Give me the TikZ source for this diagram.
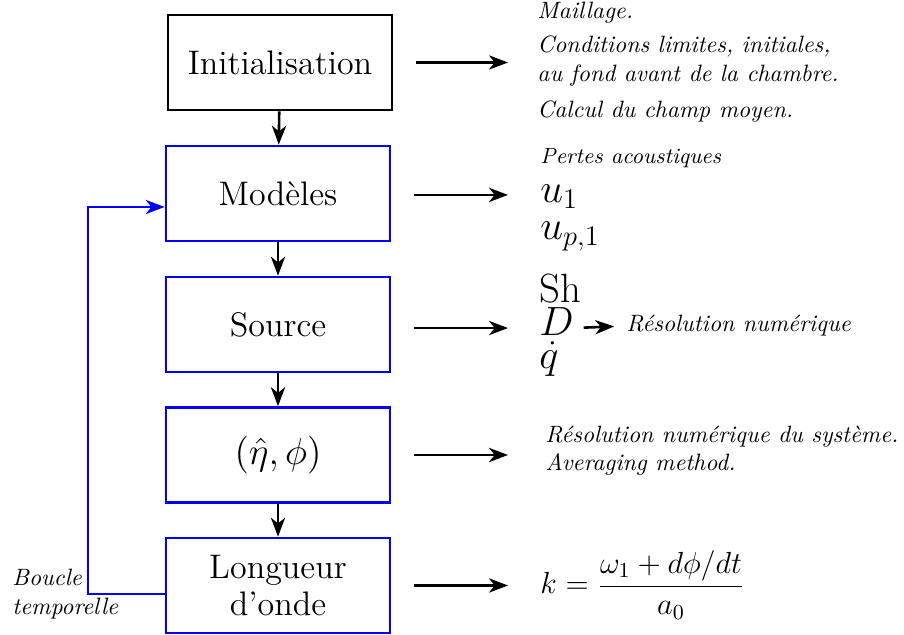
\RequirePackage{fix-cm}
\documentclass[tikz,border=0pt]{standalone}
\usepackage{amsmath,amssymb}
\usetikzlibrary{arrows.meta, positioning}

\begin{document}
\begin{tikzpicture}[x=0.423pt,y=-0.423pt,
  bloc/.style={draw,line width=1.1pt,minimum width=94.8pt,minimum height=40.2pt,font=\Large,align=center,inner sep=2pt},
  blocb/.style={bloc,draw=blue},
  fl/.style={line width=1.1pt,-{Stealth[length=8pt,width=6pt,inset=2.4pt]}},
  boucle/.style={fl,blue},
  txt/.style={anchor=west,font=\itshape,align=left,inner sep=0pt},
  mth/.style={anchor=west,font=\LARGE,inner sep=0pt,text height=8pt,text depth=2pt}]
\useasboundingbox (0,0) rectangle (904,635);
% blocs
\node[bloc] (init) at (280,62.5) {Initialisation};
\node[blocb] (mod) at (278,193.5) {Mod\`eles};
\node[blocb] (src) at (278,324.5) {Source};
\node[blocb] (eta) at (278,455) {\fontsize{16}{19}\selectfont$(\hat{\eta},\phi)$};
\node[blocb] (long) at (278,585.5) {Longueur\\[-2pt]d'onde};
\draw[fl] (init)--(mod);
\draw[fl] (mod)--(src);
\draw[fl] (src)--(eta);
\draw[fl] (eta)--(long);
% boucle
\coordinate (lp1) at (88,594);
\coordinate (lp2) at (88,207);
\draw[boucle] (lp1 -| long.west)--(lp1)--(lp2)--(lp2 -| mod.west);
\node[txt] (bt) at (12,594) {Boucle\\temporelle};
% fleches vers la droite
\coordinate (tip) at (508,0);
\draw[fl,shorten <=9.7pt] (init.east)--(init.east -| tip);
\draw[fl,shorten <=9.7pt] ([yshift=-0.6pt]mod.east)--([yshift=-0.6pt]mod.east -| tip);
\draw[fl,shorten <=9.7pt] ([yshift=-1.5pt]src.east)--([yshift=-1.5pt]src.east -| tip);
\draw[fl,shorten <=9.7pt] (eta.east)--(eta.east -| tip);
\draw[fl,shorten <=9.7pt] (long.east)--(long.east -| tip);
% textes
\node[txt] (m1) at (537,13) {Maillage.};
\node[txt] (m2) at (537,61) {Conditions limites, initiales,\\au fond avant de la chambre.};
\node[txt] (m3) at (537,112) {Calcul du champ moyen.};
\node[txt,font=\fontsize{9.3}{11}\selectfont\itshape] (p1) at (540,158) {Pertes acoustiques};
\node[mth] (u1) at (540,195) {$u_1$};
\node[mth] (up) at (540,232) {$u_{p,1}$};
\node[mth] (sh) at (539,295) {Sh};
\node[mth] (dd) at (539,328) {$D$};
\node[mth] (qq) at (539,361) {$\dot{q}$};
\node[txt] (res) at (626,326) {R\'esolution num\'erique};
\draw[fl,shorten <=4pt,shorten >=5pt] (dd.east)--(res.west);
\node[txt] (r1) at (545,451) {R\'esolution num\'erique du syst\`eme.\\Averaging method.};
\node[anchor=west,inner sep=0pt,font=\fontsize{12.9}{15}\selectfont] (kk) at (540,585) {$k=\dfrac{\omega_1+d\phi/dt}{a_0}$};
\end{tikzpicture}
\end{document}
